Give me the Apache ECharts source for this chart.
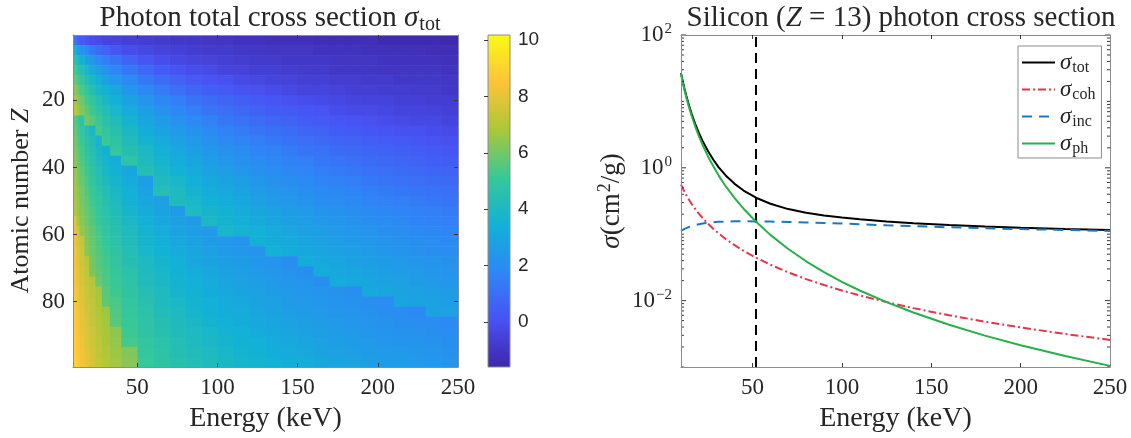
<!DOCTYPE html>
<html>
<head>
<meta charset="utf-8">
<script src="https://cdn.jsdelivr.net/npm/echarts@6/dist/echarts.min.js"></script>
<style>
html, body { margin: 0; padding: 0; background: #ffffff; }
#chart { width: 1131px; height: 438px; }
</style>
</head>
<body>
<div id="chart"></div>
<script>
// ---- Left panel: ln(total cross section) over energy bins x atomic-number bands ----
const energyEdges = [10, 12, 14, 17, 20, 24, 28, 33, 40, 50, 60, 70, 80, 90, 100, 110, 120, 130, 140, 150,
  160, 170, 180, 190, 200, 210, 220, 230, 240, 250];
const zEdges = [0.5, 3.5, 6.5, 9.5, 12.5, 15.5, 18.5, 21.5, 24.5, 27.5, 30.5, 33.5, 36.5, 39.5, 42.5, 45.5, 48.5,
  51.5, 54.5, 57.5, 60.5, 63.5, 66.5, 69.5, 72.5, 75.5, 78.5, 81.5, 84.5, 87.5, 90.5, 93.5, 96.5, 99.5];
// one row per Z band (top to bottom), one value per energy bin (left to right)
const lnSigmaTot = [
  [1.1, 0.7, 0.4, 0.1, -0.1, -0.2, -0.4, -0.5, -0.6, -0.7, -0.8, -0.9, -0.9, -1.0, -1.0, -1.1, -1.1, -1.2, -1.2, -1.2, -1.3, -1.3, -1.3, -1.3, -1.4, -1.4, -1.4, -1.4, -1.5],
  [3.4, 2.9, 2.3, 1.8, 1.3, 0.9, 0.6, 0.2, -0.1, -0.3, -0.5, -0.6, -0.7, -0.8, -0.8, -0.9, -0.9, -1.0, -1.0, -1.0, -1.1, -1.1, -1.1, -1.2, -1.2, -1.2, -1.2, -1.3, -1.3],
  [4.5, 4.0, 3.5, 2.9, 2.4, 1.9, 1.5, 1.1, 0.6, 0.2, -0.1, -0.3, -0.4, -0.5, -0.6, -0.7, -0.8, -0.8, -0.9, -0.9, -0.9, -1.0, -1.0, -1.0, -1.1, -1.1, -1.1, -1.1, -1.2],
  [5.3, 4.8, 4.3, 3.8, 3.2, 2.8, 2.3, 1.8, 1.3, 0.8, 0.4, 0.1, -0.1, -0.2, -0.4, -0.5, -0.6, -0.6, -0.7, -0.8, -0.8, -0.9, -0.9, -0.9, -1.0, -1.0, -1.0, -1.0, -1.1],
  [5.9, 5.4, 4.9, 4.4, 3.9, 3.4, 2.9, 2.4, 1.9, 1.3, 0.9, 0.6, 0.3, 0.1, 0.0, -0.2, -0.3, -0.4, -0.5, -0.6, -0.6, -0.7, -0.7, -0.8, -0.8, -0.9, -0.9, -0.9, -1.0],
  [6.4, 5.9, 5.4, 4.9, 4.4, 3.9, 3.5, 3.0, 2.4, 1.8, 1.4, 1.0, 0.7, 0.5, 0.3, 0.1, 0.0, -0.1, -0.3, -0.4, -0.4, -0.5, -0.6, -0.6, -0.7, -0.7, -0.8, -0.8, -0.9],
  [6.8, 6.4, 5.9, 5.3, 4.9, 4.4, 3.9, 3.4, 2.8, 2.3, 1.8, 1.5, 1.1, 0.9, 0.7, 0.5, 0.3, 0.2, 0.0, -0.1, -0.2, -0.3, -0.4, -0.5, -0.5, -0.6, -0.6, -0.7, -0.7],
  [7.2, 6.7, 6.2, 5.7, 5.2, 4.7, 4.3, 3.8, 3.2, 2.7, 2.2, 1.8, 1.5, 1.2, 1.0, 0.8, 0.6, 0.4, 0.3, 0.2, 0.1, -0.1, -0.2, -0.2, -0.3, -0.4, -0.4, -0.5, -0.6],
  [5.6, 5.2, 4.7, 6.0, 5.6, 5.1, 4.6, 4.2, 3.6, 3.0, 2.6, 2.2, 1.9, 1.6, 1.3, 1.1, 0.9, 0.7, 0.6, 0.4, 0.3, 0.2, 0.1, 0.0, -0.1, -0.2, -0.3, -0.3, -0.4],
  [5.9, 5.4, 4.9, 4.4, 3.9, 5.4, 4.9, 4.5, 3.9, 3.3, 2.9, 2.5, 2.2, 1.9, 1.6, 1.4, 1.2, 1.0, 0.9, 0.7, 0.6, 0.4, 0.3, 0.2, 0.1, 0.0, 0.0, -0.1, -0.2],
  [6.0, 5.6, 5.1, 4.6, 4.2, 3.7, 5.2, 4.7, 4.2, 3.6, 3.2, 2.8, 2.5, 2.2, 1.9, 1.7, 1.5, 1.3, 1.1, 1.0, 0.8, 0.7, 0.6, 0.5, 0.4, 0.3, 0.2, 0.1, 0.0],
  [6.2, 5.8, 5.3, 4.8, 4.4, 3.9, 3.5, 5.0, 4.4, 3.9, 3.4, 3.1, 2.7, 2.4, 2.2, 2.0, 1.7, 1.6, 1.4, 1.2, 1.1, 0.9, 0.8, 0.7, 0.6, 0.5, 0.4, 0.3, 0.2],
  [6.4, 5.9, 5.5, 5.0, 4.6, 4.1, 3.7, 3.3, 4.7, 4.1, 3.7, 3.3, 3.0, 2.7, 2.4, 2.2, 2.0, 1.8, 1.6, 1.5, 1.3, 1.2, 1.0, 0.9, 0.8, 0.7, 0.6, 0.5, 0.4],
  [6.5, 6.1, 5.7, 5.2, 4.8, 4.3, 3.9, 3.5, 3.0, 4.3, 3.9, 3.5, 3.2, 2.9, 2.7, 2.4, 2.2, 2.0, 1.8, 1.7, 1.5, 1.4, 1.3, 1.1, 1.0, 0.9, 0.8, 0.7, 0.6],
  [6.7, 6.2, 5.8, 5.4, 4.9, 4.5, 4.1, 3.7, 3.2, 2.7, 4.1, 3.8, 3.4, 3.1, 2.9, 2.7, 2.4, 2.2, 2.1, 1.9, 1.7, 1.6, 1.5, 1.3, 1.2, 1.1, 1.0, 0.9, 0.8],
  [6.8, 6.4, 6.0, 5.5, 5.1, 4.7, 4.3, 3.9, 3.4, 2.9, 4.3, 4.0, 3.6, 3.3, 3.1, 2.9, 2.6, 2.4, 2.3, 2.1, 1.9, 1.8, 1.7, 1.5, 1.4, 1.3, 1.2, 1.1, 1.0],
  [6.9, 6.5, 6.1, 5.7, 5.2, 4.9, 4.5, 4.0, 3.5, 3.1, 2.8, 4.1, 3.8, 3.5, 3.3, 3.1, 2.8, 2.6, 2.5, 2.3, 2.1, 2.0, 1.9, 1.7, 1.6, 1.5, 1.4, 1.3, 1.2],
  [7.0, 6.6, 6.2, 5.8, 5.4, 5.0, 4.6, 4.2, 3.7, 3.2, 2.9, 2.6, 4.0, 3.7, 3.5, 3.2, 3.0, 2.8, 2.6, 2.5, 2.3, 2.2, 2.0, 1.9, 1.8, 1.7, 1.6, 1.5, 1.4],
  [7.9, 6.8, 6.3, 5.9, 5.5, 5.1, 4.8, 4.4, 3.9, 3.4, 3.1, 2.8, 2.6, 3.9, 3.6, 3.4, 3.2, 3.0, 2.8, 2.7, 2.5, 2.4, 2.2, 2.1, 2.0, 1.9, 1.7, 1.6, 1.5],
  [8.0, 7.6, 6.5, 6.1, 5.7, 5.3, 4.9, 4.5, 4.0, 3.6, 3.2, 2.9, 2.7, 2.5, 3.8, 3.6, 3.4, 3.2, 3.0, 2.8, 2.7, 2.5, 2.4, 2.3, 2.1, 2.0, 1.9, 1.8, 1.7],
  [8.1, 7.7, 7.3, 6.2, 5.8, 5.4, 5.0, 4.6, 4.2, 3.7, 3.4, 3.1, 2.9, 2.6, 2.4, 2.3, 3.5, 3.3, 3.2, 3.0, 2.8, 2.7, 2.5, 2.4, 2.3, 2.2, 2.1, 2.0, 1.9],
  [8.2, 7.8, 7.4, 6.3, 5.9, 5.5, 5.2, 4.8, 4.3, 3.8, 3.5, 3.2, 3.0, 2.8, 2.6, 2.4, 2.3, 3.5, 3.3, 3.1, 3.0, 2.8, 2.7, 2.6, 2.4, 2.3, 2.2, 2.1, 2.0],
  [8.3, 7.9, 7.5, 7.1, 6.0, 5.6, 5.3, 4.9, 4.4, 4.0, 3.7, 3.4, 3.1, 2.9, 2.7, 2.6, 2.4, 2.3, 2.1, 3.3, 3.1, 3.0, 2.8, 2.7, 2.6, 2.5, 2.4, 2.3, 2.2],
  [8.4, 8.0, 7.6, 7.2, 6.1, 5.7, 5.4, 5.0, 4.6, 4.1, 3.8, 3.5, 3.3, 3.1, 2.9, 2.7, 2.5, 2.4, 2.2, 2.1, 3.3, 3.1, 3.0, 2.9, 2.7, 2.6, 2.5, 2.4, 2.3],
  [8.4, 8.1, 7.7, 7.3, 7.0, 5.9, 5.5, 5.1, 4.7, 4.2, 3.9, 3.6, 3.4, 3.2, 3.0, 2.8, 2.7, 2.5, 2.4, 2.3, 2.1, 3.3, 3.1, 3.0, 2.9, 2.8, 2.6, 2.5, 2.4],
  [8.5, 8.2, 7.8, 7.4, 7.1, 6.7, 5.6, 5.2, 4.8, 4.3, 4.0, 3.7, 3.5, 3.3, 3.1, 2.9, 2.8, 2.6, 2.5, 2.4, 2.3, 2.2, 2.0, 3.1, 3.0, 2.9, 2.8, 2.7, 2.6],
  [8.6, 8.2, 7.9, 7.5, 7.2, 6.8, 5.7, 5.4, 4.9, 4.5, 4.1, 3.9, 3.6, 3.4, 3.2, 3.1, 2.9, 2.8, 2.6, 2.5, 2.4, 2.3, 2.2, 2.1, 2.0, 3.0, 2.9, 2.8, 2.7],
  [8.7, 8.3, 8.0, 7.6, 7.2, 6.9, 6.6, 5.5, 5.0, 4.6, 4.2, 4.0, 3.7, 3.5, 3.3, 3.2, 3.0, 2.9, 2.7, 2.6, 2.5, 2.4, 2.3, 2.2, 2.1, 2.0, 1.9, 2.9, 2.8],
  [8.7, 8.4, 8.0, 7.7, 7.3, 7.0, 6.7, 5.6, 5.1, 4.7, 4.4, 4.1, 3.9, 3.6, 3.4, 3.3, 3.1, 3.0, 2.8, 2.7, 2.6, 2.5, 2.4, 2.3, 2.2, 2.1, 2.0, 2.0, 1.9],
  [8.8, 8.5, 8.1, 7.8, 7.4, 7.1, 6.8, 6.4, 5.2, 4.8, 4.5, 4.2, 4.0, 3.8, 3.6, 3.4, 3.2, 3.1, 3.0, 2.8, 2.7, 2.6, 2.5, 2.4, 2.3, 2.2, 2.2, 2.1, 2.0],
  [8.9, 8.5, 8.2, 7.8, 7.5, 7.2, 6.8, 6.5, 5.3, 4.9, 4.6, 4.3, 4.1, 3.9, 3.7, 3.5, 3.4, 3.2, 3.1, 3.0, 2.8, 2.7, 2.6, 2.5, 2.4, 2.3, 2.3, 2.2, 2.1],
  [8.9, 8.6, 8.3, 7.9, 7.6, 7.2, 6.9, 6.6, 6.2, 5.0, 4.7, 4.4, 4.2, 4.0, 3.8, 3.6, 3.5, 3.3, 3.2, 3.1, 2.9, 2.8, 2.7, 2.6, 2.5, 2.5, 2.4, 2.3, 2.2],
  [9.0, 8.7, 8.3, 8.0, 7.6, 7.3, 7.0, 6.7, 6.3, 5.1, 4.8, 4.5, 4.3, 4.1, 3.9, 3.7, 3.6, 3.4, 3.3, 3.2, 3.0, 2.9, 2.8, 2.7, 2.6, 2.6, 2.5, 2.4, 2.3]
];
const colorRange = [-1.6, 10.18];
const colorTicks = [0, 2, 4, 6, 8, 10];
const energyRange = [10, 250];
const energyTicks = [50, 100, 150, 200, 250];
const zRange = [0.5, 99.5];
const zTicks = [20, 40, 60, 80];

// ---- Right panel: silicon (Z = 13) cross sections, cm^2/g ----
const energies = [10, 11, 12, 13, 14, 15, 16, 18, 20, 22, 25, 28, 31, 35, 40, 45, 52, 60, 70, 80, 90, 100, 110, 125, 140, 160, 180, 200, 225, 250];
const sigmaTot = [26.67, 19.91, 15.25, 12.01, 9.60, 7.81, 6.45, 4.556, 3.355, 2.561, 1.803, 1.333, 1.0265, 0.7678, 0.5735, 0.4547, 0.3542, 0.2874, 0.2389, 0.2102, 0.1915, 0.1784, 0.1674, 0.1552, 0.1463, 0.1374, 0.1308, 0.1255, 0.1202, 0.1158];
const sigmaCoh = [0.56, 0.490, 0.4327, 0.3856, 0.3463, 0.3130, 0.2846, 0.2388, 0.2037, 0.1761, 0.1446, 0.1211, 0.1030, 0.0848, 0.0683, 0.0562, 0.0442, 0.0347, 0.02662, 0.02109, 0.01714, 0.01421, 0.01197, 0.00949, 0.00770, 0.00601, 0.00481, 0.00394, 0.00314, 0.00256];
const sigmaInc = [0.112, 0.1165, 0.1205, 0.124, 0.127, 0.130, 0.1325, 0.137, 0.141, 0.1445, 0.1485, 0.1515, 0.1535, 0.155, 0.1562, 0.1565, 0.156, 0.155, 0.1525, 0.150, 0.1475, 0.145, 0.1412, 0.1362, 0.1320, 0.1271, 0.1230, 0.1194, 0.1156, 0.1122];
const sigmaPh = [26.0, 19.3, 14.7, 11.5, 9.13, 7.37, 6.03, 4.18, 3.01, 2.24, 1.51, 1.06, 0.770, 0.528, 0.349, 0.242, 0.154, 0.0977, 0.0598, 0.0391, 0.0269, 0.0192, 0.0142, 0.00947, 0.00661, 0.00432, 0.00297, 0.00212, 0.00146, 0.00104];
const markerEnergy = 52;
const sigmaRange = [0.001, 100];
const logMantissas = [1, 2, 3, 4, 5, 6, 7, 8, 9];
const logDecades = [-3, -2, -1, 0, 1];
const logLabelDecades = [-2, 0, 2];

// ---- styling ----
const parula = ['#3E26A8', '#4852F4', '#2E87F7', '#12B1D6', '#37C897', '#ABC739', '#FEC338', '#F9FB15'];
const serif = "'Liberation Serif', 'DejaVu Serif', serif";
const sans = "'Liberation Sans', Arial, sans-serif";
const ink = '#262626';
const frame = '#8c8c8c';
const tickInk = '#3a3a3a';

function richSet(base, sub) {
  return {
    t: { fontFamily: serif, fontSize: base, fontWeight: 'normal', color: ink, lineHeight: base - 2 },
    i: { fontFamily: serif, fontSize: base, fontWeight: 'normal', fontStyle: 'italic', color: ink, lineHeight: base - 2 },
    sub: { fontFamily: serif, fontSize: sub, fontWeight: 'normal', color: ink, lineHeight: sub - 2, padding: [Math.round(base * 0.46), 0, 0, 1] },
    sup: { fontFamily: serif, fontSize: sub, fontWeight: 'normal', color: ink, lineHeight: sub - 2, padding: [0, 0, Math.round(base * 0.46), 1] }
  };
}

// heatmap cells built from the bin edges and the table
const cells = [];
lnSigmaTot.forEach((row, i) => {
  row.forEach((v, j) => {
    cells.push([energyEdges[j], energyEdges[j + 1], zEdges[i], zEdges[i + 1], v]);
  });
});

// log-axis tick positions for the right panel frame
const logTickData = [];
logDecades.forEach(d => {
  logMantissas.forEach(m => {
    const v = m * Math.pow(10, d);
    const major = (m === 1 && logLabelDecades.indexOf(d) >= 0) ? 1 : 0;
    logTickData.push([energyRange[0], v, major]);
  });
});
logTickData.push([energyRange[0], sigmaRange[1], 1]);

function frameAxisX(grid, pos, ticks, labels) {
  return {
    gridIndex: grid, type: 'value', position: pos, min: energyRange[0], max: energyRange[1], z: 10,
    axisLine: { show: true, onZero: false, lineStyle: { color: frame, width: 1 } },
    axisTick: { show: true, inside: true, length: 4, customValues: ticks, lineStyle: { color: tickInk } },
    axisLabel: labels ? { show: true, customValues: energyTicks, fontFamily: serif, fontSize: 23, color: ink, margin: 9 } : { show: false },
    splitLine: { show: false },
    name: labels ? 'Energy (keV)' : '',
    nameLocation: 'middle', nameGap: 38,
    nameTextStyle: { fontFamily: serif, fontSize: 28, color: ink }
  };
}

const lineDefs = [
  { name: 'tot', data: sigmaTot, color: '#000000', type: 'solid' },
  { name: 'coh', data: sigmaCoh, color: '#E2364C', type: [8, 3, 2, 3] },
  { name: 'inc', data: sigmaInc, color: '#1F78B8', type: [10, 7] },
  { name: 'ph', data: sigmaPh, color: '#27B04A', type: 'solid' }
];

const option = {
  animation: false,
  backgroundColor: '#ffffff',
  title: [
    {
      text: '{t|Photon total cross section }{i|σ}{sub|tot}',
      left: 265, top: 0, textAlign: 'center',
      textStyle: { fontWeight: 'normal', rich: richSet(29, 20) }
    },
    {
      text: '{t|Silicon (}{i|Z}{t| = 13) photon cross section}',
      left: 896, top: 0, textAlign: 'center',
      textStyle: { fontWeight: 'normal', rich: richSet(29, 20) }
    }
  ],
  grid: [
    { left: 73, top: 35, width: 385, height: 332, outerBoundsMode: 'none' },
    { left: 488, top: 35, width: 22, height: 332, outerBoundsMode: 'none' },
    { left: 681, top: 35, width: 429, height: 332, outerBoundsMode: 'none' }
  ],
  visualMap: {
    type: 'continuous', show: false, seriesIndex: 0, dimension: 4,
    min: colorRange[0], max: colorRange[1],
    inRange: { color: parula }
  },
  legend: {
    left: 1018, top: 46, orient: 'vertical',
    itemWidth: 33, itemHeight: 14, itemGap: 0,
    padding: [3, 6, 1, 3],
    backgroundColor: '#ffffff', borderColor: frame, borderWidth: 1, borderRadius: 0,
    data: lineDefs.map(d => d.name),
    formatter: name => '{i|σ}{sub|' + name + '}',
    textStyle: { rich: richSet(23, 16) },
    itemStyle: { opacity: 0 },
    selectedMode: false
  },
  xAxis: [
    frameAxisX(0, 'bottom', [50, 100, 150, 200], true),
    frameAxisX(0, 'top', [50, 100, 150, 200], false),
    { gridIndex: 1, type: 'value', min: 0, max: 1, show: false },
    frameAxisX(2, 'bottom', [50, 100, 150, 200], true),
    frameAxisX(2, 'top', [50, 100, 150, 200], false)
  ],
  yAxis: [
    {
      gridIndex: 0, type: 'value', min: zRange[0], max: zRange[1], inverse: true, position: 'left', z: 10,
      axisLine: { show: true, onZero: false, lineStyle: { color: frame } },
      axisTick: { show: true, inside: true, length: 4, customValues: zTicks, lineStyle: { color: tickInk } },
      axisLabel: { customValues: zTicks, fontFamily: serif, fontSize: 23, color: ink, margin: 8 },
      splitLine: { show: false },
      name: '{t|Atomic number }{i|Z}', nameLocation: 'middle', nameGap: 40,
      nameTextStyle: { rich: richSet(26, 18) }
    },
    {
      gridIndex: 0, type: 'value', min: zRange[0], max: zRange[1], inverse: true, position: 'right', z: 10,
      axisLine: { show: true, onZero: false, lineStyle: { color: frame } },
      axisTick: { show: true, inside: true, length: 4, customValues: zTicks, lineStyle: { color: tickInk } },
      axisLabel: { show: false }, splitLine: { show: false }
    },
    {
      gridIndex: 1, type: 'value', min: colorRange[0], max: colorRange[1], position: 'right', z: 10,
      axisLine: { show: false },
      axisTick: { show: true, inside: true, length: 4, customValues: colorTicks, lineStyle: { color: tickInk } },
      axisLabel: { customValues: colorTicks, fontFamily: sans, fontSize: 19, color: ink, margin: 8 },
      splitLine: { show: false }
    },
    {
      gridIndex: 2, type: 'log', logBase: 10, min: sigmaRange[0], max: sigmaRange[1], position: 'left', z: 10,
      splitNumber: 5,
      axisLine: { show: true, onZero: false, lineStyle: { color: frame } },
      axisTick: { show: false },
      axisLabel: {
        fontFamily: serif, fontSize: 23, color: ink, margin: 9,
        formatter: v => {
          const e = Math.round(Math.log10(v));
          if (logLabelDecades.indexOf(e) < 0) return '';
          return '{t|10}{sup|' + (e < 0 ? '\u2212' + (-e) : e) + '}';
        },
        rich: richSet(23, 15)
      },
      splitLine: { show: false },
      name: '{i|σ}{t|(cm}{sup|2}{t|/g)}', nameLocation: 'middle', nameGap: 57,
      nameTextStyle: { rich: richSet(27, 18) }
    },
    {
      gridIndex: 2, type: 'log', logBase: 10, min: sigmaRange[0], max: sigmaRange[1], position: 'right', z: 10,
      axisLine: { show: true, onZero: false, lineStyle: { color: frame } },
      axisTick: { show: false }, axisLabel: { show: false }, splitLine: { show: false }
    }
  ],
  series: [
    {
      type: 'custom', name: 'sigmaTotMap', xAxisIndex: 0, yAxisIndex: 0, silent: true, clip: true, z: 2,
      data: cells,
      encode: { x: [0, 1], y: [2, 3] },
      renderItem: (params, api) => {
        const a = api.coord([api.value(0), api.value(2)]);
        const b = api.coord([api.value(1), api.value(3)]);
        return {
          type: 'rect',
          shape: {
            x: Math.min(a[0], b[0]), y: Math.min(a[1], b[1]),
            width: Math.abs(b[0] - a[0]) + 0.6, height: Math.abs(b[1] - a[1]) + 0.6
          },
          style: { fill: api.visual('color') }
        };
      }
    },
    {
      type: 'custom', name: 'colorbar', xAxisIndex: 2, yAxisIndex: 2, silent: true, z: 2,
      data: [[0, 1, colorRange[0], colorRange[1]]],
      encode: { x: [0, 1], y: [2, 3] },
      renderItem: (params, api) => {
        const a = api.coord([api.value(0), api.value(2)]);
        const b = api.coord([api.value(1), api.value(3)]);
        const stops = parula.map((c, k) => ({ offset: k / (parula.length - 1), color: c }));
        return {
          type: 'rect',
          shape: { x: a[0], y: b[1], width: b[0] - a[0], height: a[1] - b[1] },
          style: {
            fill: new echarts.graphic.LinearGradient(0, 1, 0, 0, stops),
            stroke: frame, lineWidth: 1
          }
        };
      }
    },
    ...lineDefs.map((d, k) => ({
      type: 'line', name: d.name, xAxisIndex: 3, yAxisIndex: 3,
      data: energies.map((e, i) => [e, d.data[i]]),
      symbol: 'none', z: 3 + k,
      color: d.color,
      lineStyle: { color: d.color, width: 2, type: d.type },
      markLine: k === 0 ? {
        silent: true, symbol: ['none', 'none'], label: { show: false },
        lineStyle: { color: '#000000', width: 2, type: [10, 6] },
        data: [{ xAxis: markerEnergy }]
      } : undefined
    })),
    {
      type: 'custom', name: 'logTicks', xAxisIndex: 3, yAxisIndex: 3, silent: true, z: 9,
      data: logTickData,
      encode: { x: 0, y: 1 },
      renderItem: (params, api) => {
        const left = api.coord([energyRange[0], api.value(1)]);
        const right = api.coord([energyRange[1], api.value(1)]);
        const len = api.value(2) ? 5 : 3;
        return {
          type: 'group',
          children: [
            { type: 'line', shape: { x1: left[0], y1: left[1], x2: left[0] + len, y2: left[1] }, style: { stroke: tickInk, lineWidth: 1 } },
            { type: 'line', shape: { x1: right[0], y1: right[1], x2: right[0] - len, y2: right[1] }, style: { stroke: tickInk, lineWidth: 1 } }
          ]
        };
      }
    }
  ]
};

const chart = echarts.init(document.getElementById('chart'), null, { renderer: 'canvas', width: 1131, height: 438 });
chart.setOption(option);
</script>
</body>
</html>
